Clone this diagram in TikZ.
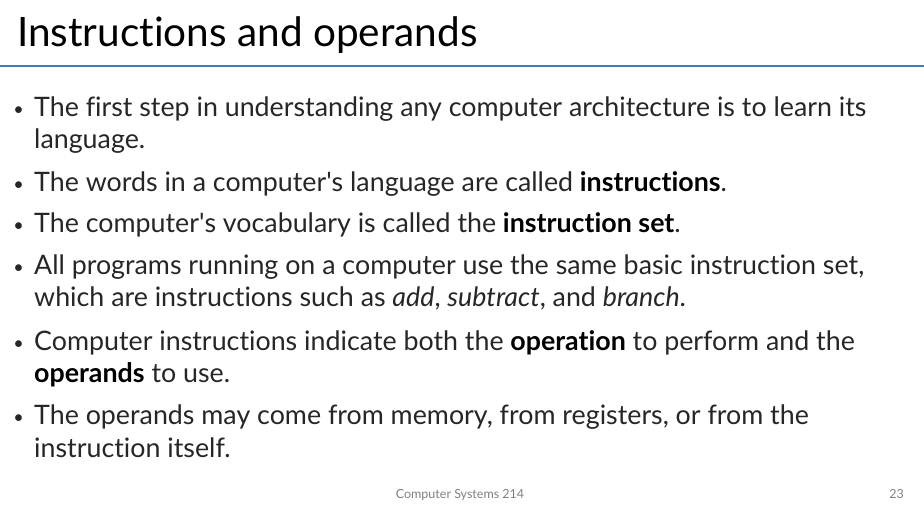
\documentclass[tikz,border=0pt]{standalone}
\usepackage{fontspec}
\setmainfont[Ligatures={NoCommon}]{Lato}
\definecolor{rule}{HTML}{3C7EBE}
\definecolor{body}{HTML}{262626}
\newcommand{\q}{\textquotesingle}
\begin{document}
\begin{tikzpicture}[x=1pt,y=-1pt]
    \tikzstyle{every node}+=[inner sep=0pt]
    \tikzset{line/.style={anchor=base west,font=\fontsize{26.8}{30}\selectfont,text=body},
             dot/.style={anchor=base east,font=\fontsize{18}{20}\selectfont,text=body}}
    \useasboundingbox (0,0) rectangle (924,512);
    \node [anchor=base west,font=\fontsize{40.5}{42}\selectfont] (title) at (17,46) {Instructions and operands};
    \draw [rule,line width=1.5pt] (0,66) -- (924,66);
    % bullets
    \node [dot] (d1) at (24,115) {•};
    \node [line] (l1a) at (34,116) {The first step in understanding any computer architecture is to learn its};
    \node [line] (l1b) at (34,148) {language.};
    \node [dot] (d2) at (24,190) {•};
    \node [line] (l2) at (34,191) {The words in a computer\q s language are called \textcolor{black}{\textbf{instructions}}.};
    \node [dot] (d3) at (24,231) {•};
    \node [line] (l3) at (34,232) {The computer\q s vocabulary is called the \textcolor{black}{\textbf{instruction set}}.};
    \node [dot] (d4) at (24,273) {•};
    \node [line] (l4a) at (34,274) {All programs running on a computer use the same basic instruction set,};
    \node [line] (l4b) at (34,306) {which are instructions such as \textit{add}, \textit{subtract}, and \textit{branch}.};
    \node [dot] (d5) at (24,349) {•};
    \node [line] (l5a) at (34,350) {Computer instructions indicate both the \textcolor{black}{\textbf{operation}} to perform and the};
    \node [line] (l5b) at (34,382) {\textcolor{black}{\textbf{operands}} to use.};
    \node [dot] (d6) at (24,423) {•};
    \node [line] (l6a) at (34,424) {The operands may come from memory, from registers, or from the};
    \node [line] (l6b) at (34,457) {instruction itself.};
    % footer
    \node [anchor=base,font=\fontsize{12.5}{14}\selectfont,text=gray] (foot) at (460,498) {Computer Systems 214};
    \node [anchor=base east,font=\fontsize{12.5}{14}\selectfont,text=gray] (page) at (904,498) {23};
\end{tikzpicture}
\end{document}
